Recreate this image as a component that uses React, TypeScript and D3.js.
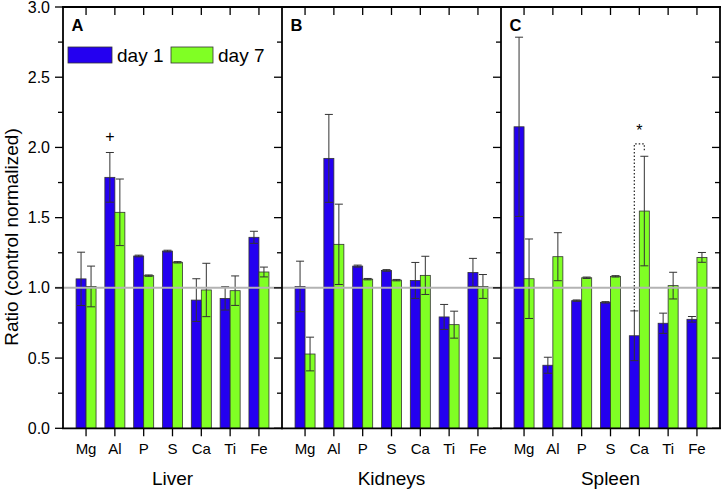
import React from "react";
import * as d3 from "d3";

const elements = ["Mg", "Al", "P", "S", "Ca", "Ti", "Fe"];
const organs = ["Liver", "Kidneys", "Spleen"];
const panelLetters = ["A", "B", "C"];
const seriesNames = ["day 1", "day 7"];

const liverDay1 = [1.064, 1.787, 1.227, 1.262, 0.913, 0.925, 1.36];
const liverDay1Err = [0.19, 0.177, 0.006, 0.006, 0.152, 0.083, 0.043];
const liverDay7 = [1.01, 1.538, 1.087, 1.182, 0.985, 0.98, 1.113];
const liverDay7Err = [0.145, 0.237, 0.005, 0.005, 0.19, 0.105, 0.035];

const kidneysDay1 = [1.01, 1.922, 1.155, 1.124, 1.053, 0.793, 1.11];
const kidneysDay1Err = [0.18, 0.313, 0.007, 0.006, 0.128, 0.089, 0.1];
const kidneysDay7 = [0.529, 1.31, 1.062, 1.055, 1.089, 0.738, 1.01];
const kidneysDay7Err = [0.12, 0.286, 0.005, 0.005, 0.136, 0.096, 0.085];

const spleenDay1 = [2.147, 0.449, 0.909, 0.897, 0.659, 0.748, 0.776];
const spleenDay1Err = [0.638, 0.057, 0.005, 0.005, 0.177, 0.072, 0.02];
const spleenDay7 = [1.065, 1.222, 1.072, 1.082, 1.547, 1.016, 1.217];
const spleenDay7Err = [0.283, 0.171, 0.005, 0.005, 0.39, 0.095, 0.035];

const yTicks = d3.range(0, 3.001, 0.25);
const yLabels = [0, 0.5, 1, 1.5, 2, 2.5, 3];

const panelData = [
  { d1: liverDay1, e1: liverDay1Err, d7: liverDay7, e7: liverDay7Err },
  { d1: kidneysDay1, e1: kidneysDay1Err, d7: kidneysDay7, e7: kidneysDay7Err },
  { d1: spleenDay1, e1: spleenDay1Err, d7: spleenDay7, e7: spleenDay7Err },
];

const BLUE = "#2400f0";
const GREEN = "#80ff24";
const FONT = "'Liberation Sans', Arial, sans-serif";

export default function App() {
  const W = 722, H = 490;
  const left = 63, right = 720, top = 7, bottom = 428.3;
  const y = d3.scaleLinear().domain([0, 3]).range([bottom, top]);
  const panels = d3.scaleBand().domain(organs).range([left, right]).paddingInner(0).paddingOuter(0);
  const pw = panels.bandwidth();
  const barW = 10;

  const errBar = (cx: number, v: number, e: number, key: string) => (
    <g key={key} stroke="#333" strokeWidth={1}>
      <line x1={cx} x2={cx} y1={y(v + e)} y2={y(v - e)} />
      <line x1={cx - 4} x2={cx + 4} y1={y(v + e)} y2={y(v + e)} />
      <line x1={cx - 4} x2={cx + 4} y1={y(v - e)} y2={y(v - e)} />
    </g>
  );

  return (
    <svg width={W} height={H} style={{ position: "absolute", left: 0, top: 0, background: "#fff" }} fontFamily={FONT}>
      {organs.map((org, pi) => {
        const L = panels(org)!;
        const x = d3.scalePoint().domain(elements).range([L, L + pw]).padding(0.8);
        const pd = panelData[pi];
        return (
          <g key={org}>
            {elements.map((el, i) => {
              const cx = x(el)!;
              return (
                <g key={el}>
                  <rect x={cx - barW} y={y(pd.d1[i])} width={barW} height={y(0) - y(pd.d1[i])} fill={BLUE} stroke="#333" strokeWidth={0.8} />
                  <rect x={cx} y={y(pd.d7[i])} width={barW} height={y(0) - y(pd.d7[i])} fill={GREEN} stroke="#333" strokeWidth={0.8} />
                </g>
              );
            })}
            {elements.map((el, i) => {
              const cx = x(el)!;
              return (
                <g key={"e" + el}>
                  {errBar(cx - barW / 2, pd.d1[i], pd.e1[i], "a")}
                  {errBar(cx + barW / 2, pd.d7[i], pd.e7[i], "b")}
                </g>
              );
            })}
          </g>
        );
      })}

      {/* reference line at 1.0 */}
      <line x1={55} x2={right} y1={y(1)} y2={y(1)} stroke="#b3b3b3" strokeWidth={2} />

      {/* axes & frames */}
      {organs.map((org, pi) => {
        const L = panels(org)!;
        const x = d3.scalePoint().domain(elements).range([L, L + pw]).padding(0.8);
        return (
          <g key={"ax" + org} stroke="#000">
            <line x1={L} x2={L} y1={top} y2={bottom} strokeWidth={1.8} />
            <line x1={L - 1} x2={L + pw + 1} y1={top} y2={top} strokeWidth={1.8} />
            <line x1={L - 1} x2={L + pw + 1} y1={bottom} y2={bottom} strokeWidth={1.8} />
            {yTicks.map((t) => {
              const major = Math.abs(t * 2 - Math.round(t * 2)) < 1e-6;
              return <line key={t} x1={L - (major ? 8 : 5)} x2={L} y1={y(t)} y2={y(t)} strokeWidth={1.3} />;
            })}
            {elements.map((el) => (
              <g key={el}>
                <line x1={x(el)!} x2={x(el)!} y1={top} y2={top + 8} strokeWidth={1.3} />
                <line x1={x(el)!} x2={x(el)!} y1={bottom} y2={bottom + 8} strokeWidth={1.3} />
              </g>
            ))}
            <g stroke="none" fill="#000">
              {elements.map((el) => (
                <text key={el} x={x(el)!} y={454} fontSize={15} textAnchor="middle">{el}</text>
              ))}
              <text x={L + pw / 2} y={485} fontSize={19} textAnchor="middle">{org}</text>
              <text x={L + 8.5} y={31} fontSize={16.5} fontWeight="bold">{panelLetters[pi]}</text>
            </g>
          </g>
        );
      })}
      {/* right axis */}
      <g stroke="#000">
        <line x1={right} x2={right} y1={top} y2={bottom} strokeWidth={1.8} />
        {yTicks.map((t) => {
          const major = Math.abs(t * 2 - Math.round(t * 2)) < 1e-6;
          return <line key={t} x1={right - (major ? 8 : 5)} x2={right} y1={y(t)} y2={y(t)} strokeWidth={1.3} />;
        })}
      </g>

      {/* y labels */}
      {yLabels.map((t) => (
        <text key={t} x={50} y={y(t) + 5.5} fontSize={16} textAnchor="end">{t.toFixed(1)}</text>
      ))}
      <text transform={`translate(18,237) rotate(-90)`} fontSize={19} textAnchor="middle">Ratio (control normalized)</text>

      {/* legend */}
      <rect x={68} y={47} width={44} height={16} fill={BLUE} stroke="#333" strokeWidth={0.8} />
      <text x={117} y={62} fontSize={19}>{seriesNames[0]}</text>
      <rect x={171} y={47} width={42} height={16} fill={GREEN} stroke="#333" strokeWidth={0.8} />
      <text x={218} y={62} fontSize={19}>{seriesNames[1]}</text>

      {/* annotations */}
      {(() => {
        const xA = d3.scalePoint().domain(elements).range([panels("Liver")!, panels("Liver")! + pw]).padding(0.8);
        const xC = d3.scalePoint().domain(elements).range([panels("Spleen")!, panels("Spleen")! + pw]).padding(0.8);
        const ia = elements.indexOf("Al");
        const ic = elements.indexOf("Ca");
        const axp = xA("Al")! - barW / 2;
        const c1 = xC("Ca")! - barW / 2;
        const c2 = xC("Ca")! + barW / 2;
        const yTopB = y(spleenDay7[ic] + spleenDay7Err[ic]) - 12.5;
        return (
          <g>
            <text x={axp} y={y(liverDay1[ia] + liverDay1Err[ia]) - 10} fontSize={16} textAnchor="middle">+</text>
            <path
              d={`M${c1},${y(spleenDay1[ic] + spleenDay1Err[ic])} L${c1},${yTopB} L${c2},${yTopB} L${c2},${yTopB + 8}`}
              fill="none" stroke="#222" strokeWidth={1.2} strokeDasharray="1.5,2"
            />
            <text x={(c1 + c2) / 2} y={yTopB - 12} fontSize={16} textAnchor="middle" dominantBaseline="middle">*</text>
          </g>
        );
      })()}
    </svg>
  );
}
